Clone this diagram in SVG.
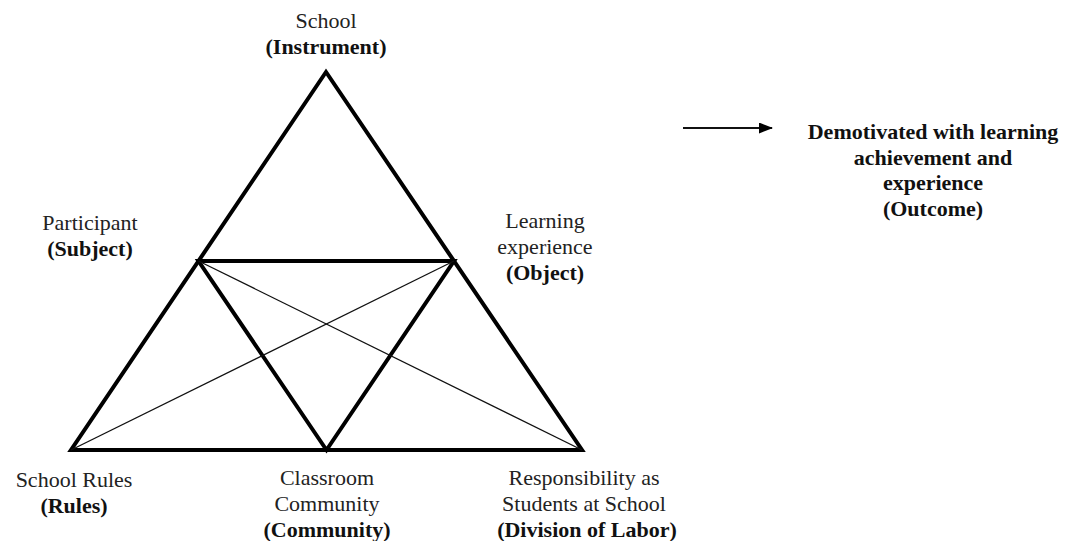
<svg xmlns="http://www.w3.org/2000/svg" width="1066" height="541" viewBox="0 0 1066 541">
<style>
text{font-family:"Liberation Serif","Times New Roman",serif;font-size:22px;fill:#222;text-anchor:middle}
.b{font-weight:bold;fill:#111}
.thick{stroke:#000;stroke-width:4;fill:none;stroke-linejoin:miter}
.thin{stroke:#111;stroke-width:1.3;fill:none}
</style>
<defs>
<marker id="ah" viewBox="0 0 14 11" refX="13" refY="5.5" markerWidth="14" markerHeight="11" orient="auto" markerUnits="userSpaceOnUse">
<path d="M0,0 L14,5.5 L0,11 z" fill="#000"/>
</marker>
</defs>
<rect width="1066" height="541" fill="#fff"/>
<g id="connectors">
<polygon class="thick" points="326,72 71,450 582,450"/>
<polygon class="thick" points="198.5,261 454,261 326.5,450"/>
<line class="thin" x1="198.5" y1="261" x2="582" y2="450"/>
<line class="thin" x1="454" y1="261" x2="71" y2="450"/>
<line x1="683" y1="128" x2="772" y2="128" stroke="#111" stroke-width="2.2" marker-end="url(#ah)"/>
</g>
<g id="node-instrument">
<text x="326" y="28">School</text>
<text class="b" x="326" y="54">(Instrument)</text>
</g>
<g id="node-subject">
<text x="90" y="230">Participant</text>
<text class="b" x="90" y="256">(Subject)</text>
</g>
<g id="node-object">
<text x="545" y="228">Learning</text>
<text x="545" y="254">experience</text>
<text class="b" x="545" y="280">(Object)</text>
</g>
<g id="node-rules">
<text x="74" y="487">School Rules</text>
<text class="b" x="74" y="513">(Rules)</text>
</g>
<g id="node-community">
<text x="327" y="485">Classroom</text>
<text x="327" y="511">Community</text>
<text class="b" x="327" y="537">(Community)</text>
</g>
<g id="node-division">
<text x="584" y="485">Responsibility as</text>
<text x="584" y="511">Students at School</text>
<text class="b" x="587" y="537">(Division of Labor)</text>
</g>
<g id="node-outcome">
<text class="b" x="933" y="139">Demotivated with learning</text>
<text class="b" x="933" y="164.5">achievement and</text>
<text class="b" x="933" y="190">experience</text>
<text class="b" x="933" y="215.5">(Outcome)</text>
</g>
</svg>
